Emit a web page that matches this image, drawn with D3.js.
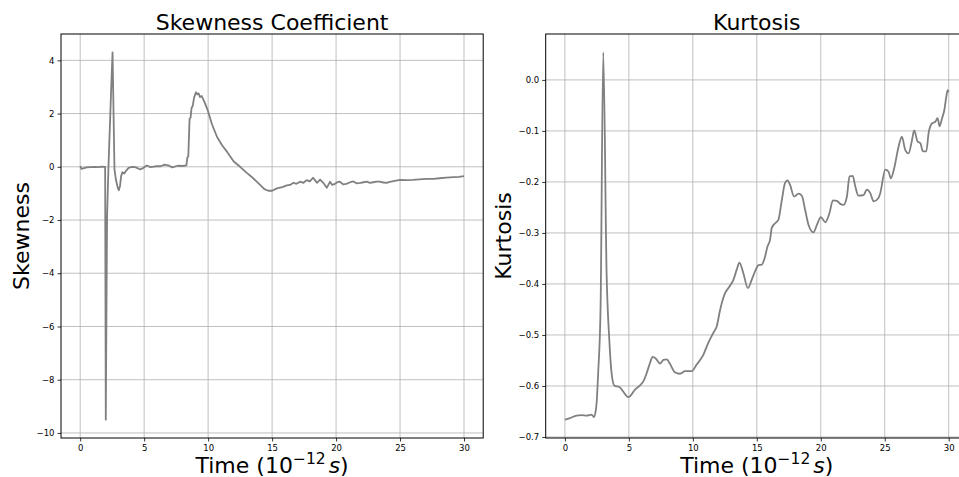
<!DOCTYPE html>
<html>
<head>
<meta charset="utf-8">
<script src="https://cdn.jsdelivr.net/npm/d3@7"></script>
<style>
  body { margin: 0; background: #fff; }
  svg { display: block; overflow: hidden; font-family: "DejaVu Sans", sans-serif; }
</style>
</head>
<body>
<div id="plot"></div>
<script>
// Skewness and kurtosis vs time, two panels side by side (matplotlib look)
const xTicks = [0, 5, 10, 15, 20, 25, 30];
const skewTicks = [4, 2, 0, -2, -4, -6, -8, -10];
const kurtTicks = [0.0, -0.1, -0.2, -0.3, -0.4, -0.5, -0.6, -0.7];

const skewTime = [0, 0.1, 0.3, 0.5, 0.8, 1.1, 1.4, 1.7, 1.9, 1.95, 2.0, 2.1, 2.21, 2.42, 2.53, 2.68, 2.79, 2.94, 3.02, 3.12,
  3.2, 3.3, 3.45, 3.57, 3.78, 4.05, 4.3, 4.7, 4.95, 5.2, 5.5, 5.9, 6.3, 6.6, 6.95, 7.2, 7.6, 8.0, 8.3, 8.38,
  8.45, 8.55, 8.63, 8.7, 8.8, 8.9, 9.05, 9.15, 9.25, 9.37, 9.5, 9.7, 9.95, 10.3, 10.7, 11.1, 11.5, 12.0, 12.5, 13.0,
  13.5, 14.0, 14.4, 14.7, 15.0, 15.37, 15.8, 16.15, 16.4, 16.67, 16.9, 17.19, 17.45, 17.7, 17.95, 18.2, 18.35, 18.5, 18.75, 19.0,
  19.27, 19.53, 19.7, 19.92, 20.1, 20.3, 20.55, 20.8, 21.1, 21.35, 21.6, 21.9, 22.15, 22.4, 22.65, 22.9, 23.15, 23.4, 23.7, 23.96,
  24.2, 24.5, 25.0, 25.5, 26.0, 26.5, 27.1, 27.6, 28.1, 28.6, 29.2, 29.6, 30.0];
const skewValue = [0.03, -0.08, -0.05, -0.02, -0.01, 0.0, -0.01, 0.01, 0.0, 0.0, -9.5, -1.9, 0.0, 2.9, 4.3, -0.1, -0.48, -0.79, -0.88, -0.7,
  -0.35, -0.2, -0.25, -0.16, -0.04, 0.0, -0.01, -0.1, -0.04, 0.05, -0.01, 0.02, 0.02, 0.08, 0.04, -0.02, 0.04, 0.03, 0.05, 0.35,
  0.4, 1.8, 1.85, 2.2, 2.3, 2.6, 2.8, 2.72, 2.76, 2.62, 2.66, 2.45, 2.15, 1.6, 1.12, 0.8, 0.55, 0.2, 0.0, -0.22,
  -0.42, -0.65, -0.84, -0.9, -0.9, -0.81, -0.76, -0.7, -0.68, -0.6, -0.64, -0.56, -0.6, -0.5, -0.55, -0.41, -0.5, -0.6, -0.48, -0.6,
  -0.79, -0.56, -0.68, -0.64, -0.58, -0.56, -0.66, -0.64, -0.58, -0.55, -0.62, -0.6, -0.58, -0.56, -0.6, -0.58, -0.56, -0.56, -0.59, -0.6,
  -0.57, -0.54, -0.49, -0.5, -0.49, -0.47, -0.45, -0.45, -0.43, -0.41, -0.39, -0.38, -0.35];

const kurtTime = [0, 0.39, 0.91, 1.3, 1.7, 2.09, 2.27, 2.4, 2.48, 2.6, 2.79, 3.0, 3.26, 3.47, 3.65, 3.86, 4.3, 4.56, 4.95, 5.1,
  5.48, 5.87, 6.13, 6.39, 6.65, 6.86, 7.1, 7.43, 7.7, 7.96, 8.2, 8.6, 9.0, 9.39, 9.65, 9.91, 10.3, 10.82, 11.2, 11.6,
  11.87, 12.13, 12.52, 12.78, 13.17, 13.43, 13.64, 13.95, 14.3, 14.6, 14.87, 15.13, 15.39, 15.65, 15.83, 16.04, 16.17, 16.43, 16.69, 16.96,
  17.21, 17.4, 17.6, 17.92, 18.26, 18.52, 18.78, 19.04, 19.43, 19.7, 20.01, 20.35, 20.68, 20.95, 21.26, 21.52, 21.78, 22.04, 22.25, 22.5,
  22.7, 22.95, 23.34, 23.6, 23.87, 24.13, 24.5, 24.65, 25.04, 25.3, 25.48, 25.74, 26.08, 26.34, 26.6, 26.86, 27.13, 27.3, 27.57, 27.78,
  27.99, 28.25, 28.43, 28.7, 28.95, 29.13, 29.29, 29.48, 29.66, 29.81, 29.92, 30.0];
const kurtValue = [-0.666, -0.663, -0.658, -0.657, -0.658, -0.656, -0.661, -0.65, -0.633, -0.575, -0.444, 0.054, -0.379, -0.509, -0.575, -0.599, -0.603, -0.611, -0.622, -0.62,
  -0.607, -0.599, -0.591, -0.575, -0.555, -0.543, -0.546, -0.556, -0.549, -0.548, -0.556, -0.573, -0.576, -0.571, -0.571, -0.571, -0.558, -0.539, -0.516, -0.496,
  -0.483, -0.451, -0.418, -0.408, -0.392, -0.372, -0.358, -0.379, -0.408, -0.392, -0.375, -0.363, -0.362, -0.346, -0.327, -0.313, -0.29, -0.281, -0.274, -0.235,
  -0.202, -0.197, -0.206, -0.229, -0.223, -0.227, -0.255, -0.284, -0.299, -0.284, -0.269, -0.279, -0.261, -0.236, -0.237, -0.243, -0.245, -0.229, -0.189, -0.188,
  -0.209, -0.227, -0.226, -0.215, -0.222, -0.238, -0.232, -0.222, -0.176, -0.18, -0.193, -0.173, -0.131, -0.111, -0.137, -0.144, -0.118, -0.099, -0.121, -0.124,
  -0.14, -0.14, -0.104, -0.085, -0.082, -0.075, -0.091, -0.075, -0.059, -0.033, -0.02, -0.024];

const W = 959, H = 477;
const svg = d3.select('#plot').append('svg').attr('width', W).attr('height', H);

function pad(ext) {
  const m = (ext[1] - ext[0]) * 0.05;
  return [ext[0] - m, ext[1] + m];
}

function panel(opts) {
  const { left, top, width, height, times, values, yTicks, yFmt, title, ylabel, ylabelX, curve } = opts;
  const x = d3.scaleLinear().domain(pad(d3.extent(times))).range([0, width]);
  const y = d3.scaleLinear().domain(pad(d3.extent(values))).range([height, 0]);
  const g = svg.append('g').attr('transform', `translate(${left},${top})`);

  // grid
  g.append('g').selectAll('line').data(xTicks).join('line')
    .attr('x1', (d) => x(d)).attr('x2', (d) => x(d)).attr('y1', 0).attr('y2', height)
    .attr('stroke', '#b0b0b0').attr('stroke-opacity', 0.8).attr('stroke-width', 1);
  g.append('g').selectAll('line').data(yTicks).join('line')
    .attr('x1', 0).attr('x2', width).attr('y1', (d) => y(d)).attr('y2', (d) => y(d))
    .attr('stroke', '#b0b0b0').attr('stroke-opacity', 0.8).attr('stroke-width', 1);

  const line = d3.line().x((d, i) => x(times[i])).y((d) => y(d)).curve(curve);
  g.append('path').datum(values).attr('d', line)
    .attr('fill', 'none').attr('stroke', '#808080').attr('stroke-width', 1.8).attr('stroke-linejoin', 'round');

  const xAxis = g.append('g').attr('transform', `translate(0,${height})`)
    .call(d3.axisBottom(x).tickValues(xTicks).tickSize(3.5).tickPadding(3).tickFormat(d3.format('d')));
  const yAxis = g.append('g')
    .call(d3.axisLeft(y).tickValues(yTicks).tickSize(3.5).tickPadding(3).tickFormat(yFmt));
  [xAxis, yAxis].forEach((a) => {
    a.select('.domain').remove();
    a.selectAll('line').attr('stroke', '#000').attr('stroke-width', 0.8);
    a.selectAll('text').attr('font-family', '"DejaVu Sans", sans-serif').attr('font-size', 8.5).attr('fill', '#000');
  });

  g.append('rect').attr('x', 0).attr('y', 0).attr('width', width).attr('height', height)
    .attr('fill', 'none').attr('stroke', '#000').attr('stroke-width', 1);

  g.append('text').attr('x', width / 2).attr('y', -4.5).attr('text-anchor', 'middle')
    .attr('font-size', 22).text(title);

  g.append('text').attr('transform', `translate(${ylabelX},${height / 2}) rotate(-90)`)
    .attr('text-anchor', 'middle').attr('font-size', 22).text(ylabel);

  const xl = g.append('text').attr('x', width / 2).attr('y', 473 - top).attr('text-anchor', 'middle').attr('font-size', 22);
  xl.append('tspan').text('Time (10');
  xl.append('tspan').attr('dy', -9).attr('font-size', 15.5).text('\u221212');
  xl.append('tspan').attr('dy', 9).attr('dx', 3).attr('font-style', 'italic').text('s');
  xl.append('tspan').text(')');
}

const plotW = 422.2, plotTop = 34, plotH = 404;

panel({
  left: 61, top: plotTop, width: plotW, height: plotH,
  times: skewTime, values: skewValue, yTicks: skewTicks,
  yFmt: (d) => d3.format('d')(d).replace('-', '\u2212'),
  title: 'Skewness Coefficient', ylabel: 'Skewness', ylabelX: 29 - 61,
  curve: d3.curveLinear
});

panel({
  left: 545.7, top: plotTop, width: plotW, height: plotH,
  times: kurtTime, values: kurtValue, yTicks: kurtTicks,
  yFmt: (d) => d3.format('.1f')(d).replace('-', '\u2212'),
  title: 'Kurtosis', ylabel: 'Kurtosis', ylabelX: 511 - 545.7,
  curve: d3.curveMonotoneX
});
</script>
</body>
</html>
